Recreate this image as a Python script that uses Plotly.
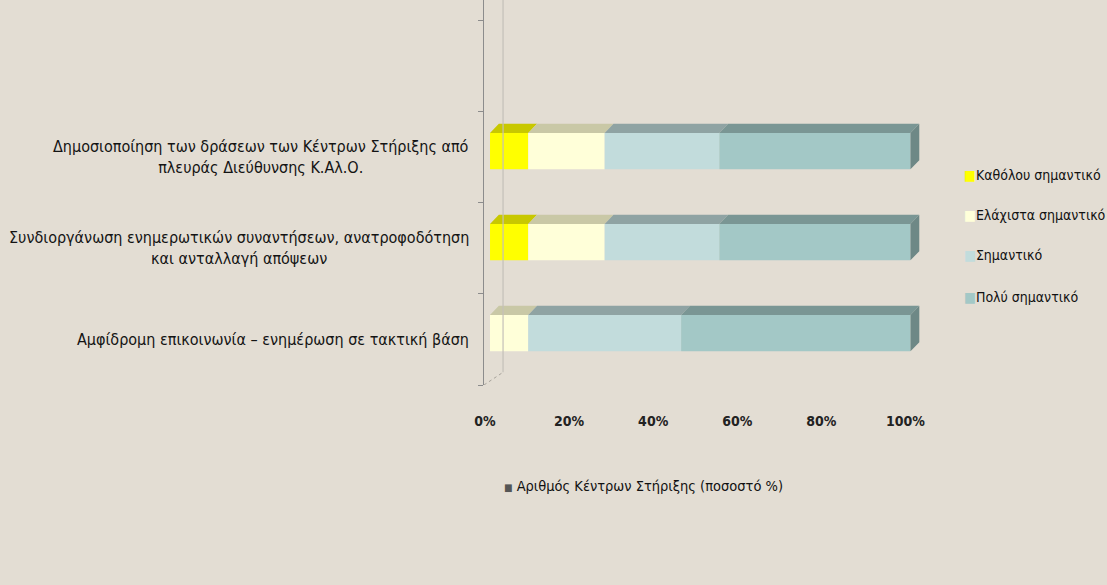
import numpy as np
import plotly.graph_objects as go

# ---- data (bottom to top) ----
categories = [
    "Αμφίδρομη επικοινωνία – ενημέρωση σε τακτική βάση",
    "Συνδιοργάνωση ενημερωτικών συναντήσεων, ανατροφοδότηση<br>και ανταλλαγή απόψεων",
    "Δημοσιοποίηση των δράσεων των Κέντρων Στήριξης από<br>πλευράς Διεύθυνσης Κ.Αλ.Ο.",
]
series_names = ["Καθόλου σημαντικό", "Ελάχιστα σημαντικό", "Σημαντικό", "Πολύ σημαντικό"]
katholou = [0.0, 9.09, 9.09]
elaxista = [9.09, 18.18, 18.18]
simantiko = [36.36, 27.27, 27.27]
poly = [54.55, 45.45, 45.45]
x_ticks = [0, 20, 40, 60, 80, 100]
x_tick_labels = ["0%", "20%", "40%", "60%", "80%", "100%"]
bottom_label = "Αριθμός Κέντρων Στήριξης (ποσοστό %)"

values = [katholou, elaxista, simantiko, poly]
front_cols = ["#FFFF00", "#FFFFD9", "#C2DCDC", "#A3C8C6"]
top_cols = ["#C8C800", "#C9C8A6", "#8FA3A3", "#7A9694"]
side_col = "#6E8886"
bg = "#E3DDD3"
FONT = "Liberation Sans Narrow, Arial Narrow, DejaVu Sans Condensed, sans-serif"

ypos = np.arange(len(categories))
bar_w = 0.4
bar_off = -0.13
dx, dy = 2.1, 0.1  # 3D depth in axis units

fig = go.Figure()
cum = np.zeros(len(categories))
for name, vals, fc in zip(series_names, values, front_cols):
    v = np.array(vals)
    fig.add_trace(go.Bar(
        y=ypos, x=v, base=cum, orientation="h", name=name,
        width=bar_w, offset=bar_off, marker=dict(color=fc, line=dict(width=0)),
        showlegend=False,
    ))
    cum = cum + v

# top faces
cum = np.zeros(len(categories))
for vals, tc in zip(values, top_cols):
    v = np.array(vals)
    xs, ys = [], []
    for i in range(len(categories)):
        if v[i] <= 0:
            continue
        a, b = cum[i], cum[i] + v[i]
        yt = ypos[i] + bar_off + bar_w
        xs += [a, b, b + dx, a + dx, a, None]
        ys += [yt, yt, yt + dy, yt + dy, yt, None]
    cum = cum + v
    fig.add_trace(go.Scatter(x=xs, y=ys, fill="toself", fillcolor=tc, mode="lines",
                             line=dict(width=0, color=tc), showlegend=False, hoverinfo="skip"))

# right side faces
xs, ys = [], []
for i in range(len(categories)):
    e = cum[i]
    yb = ypos[i] + bar_off
    yt = yb + bar_w
    xs += [e, e + dx, e + dx, e, e, None]
    ys += [yb, yb + dy, yt + dy, yt, yb, None]
fig.add_trace(go.Scatter(x=xs, y=ys, fill="toself", fillcolor=side_col, mode="lines",
                         line=dict(width=0, color=side_col), showlegend=False, hoverinfo="skip"))

xmin, xmax = -1.43, 102.5
ymin, ymax = -0.5, 3.73
L = 484
W = (xmax - xmin) * 4.2
H = 385

# back wall line + floor diagonal
fig.add_shape(type="line", xref="x", yref="y", x0=3.1, x1=3.1, y0=-0.36, y1=ymax,
              line=dict(color="#C4C0B8", width=1.2))
fig.add_shape(type="line", xref="x", yref="y", x0=xmin, x1=3.1, y0=-0.5, y1=-0.36,
              line=dict(color="#A8A49C", width=1, dash="dot"))

annotations = []
# category labels
for i, c in enumerate(categories):
    annotations.append(dict(
        xref="paper", yref="y", x=(471 - L) / W, y=ypos[i], xanchor="right", yanchor="middle",
        text=c, showarrow=False, align="center",
        font=dict(family=FONT, size=16, color="#141414"),
    ))
# right legend
leg_y = [175, 215, 255, 297]
for name, fc, py in zip(series_names, front_cols, leg_y):
    annotations.append(dict(
        xref="paper", yref="paper", x=(961 - L) / W, y=(H - py) / H, xanchor="left", yanchor="middle",
        text=f"<span style='color:{fc}'>■</span>{name}", showarrow=False,
        font=dict(family=FONT, size=14, color="#111111"),
    ))
# bottom legend
annotations.append(dict(
    xref="paper", yref="paper", x=(502 - L) / W, y=(H - 486) / H, xanchor="left", yanchor="middle",
    text=f"<span style='color:#555555;font-size:10px'>■</span> {bottom_label}", showarrow=False,
    font=dict(family=FONT, size=14.5, color="#111111"),
))

fig.update_layout(
    width=1107, height=585,
    margin=dict(l=L, r=1107 - L - W, t=0, b=585 - H, autoexpand=False),
    paper_bgcolor=bg, plot_bgcolor=bg,
    barmode="overlay", showlegend=False,
    annotations=annotations,
    xaxis=dict(range=[xmin, xmax], tickvals=x_ticks, ticktext=x_tick_labels,
               showgrid=False, zeroline=False, showline=False, ticks="",
               ticklabelshift=-5, ticklabelstandoff=26,
               tickfont=dict(family=FONT, size=14, color="#222222", weight="bold")),
    yaxis=dict(range=[ymin, ymax], tickvals=list(ypos), showticklabels=False,
               showgrid=False, zeroline=False, showline=True, linecolor="#8C8C8C", linewidth=1.2,
               ticks="", minor=dict(tick0=0.5, dtick=1, ticks="outside", ticklen=5,
                                    tickcolor="#8C8C8C", showgrid=False)),
)

fig.write_html("out.html", config={"displayModeBar": False},
               post_script="document.body.style.margin='0';document.body.style.background='" + bg + "';")
